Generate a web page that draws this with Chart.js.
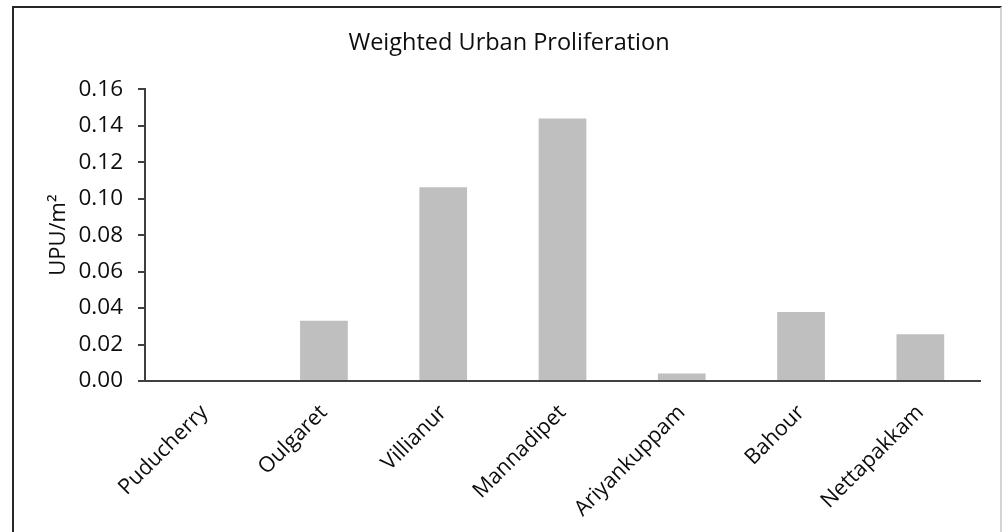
<!DOCTYPE html>
<html>
<head>
<meta charset="utf-8">
<script src="https://cdn.jsdelivr.net/npm/chart.js@4"></script>
<style>
  html, body { margin: 0; padding: 0; background: #fff; }
  #wrap { position: relative; width: 1006px; height: 532px; overflow: hidden; }
  #frame { position: absolute; left: 12px; top: 6px; width: 986px; height: 560px;
           border-left: 2px solid #262626; border-top: 2px solid #262626; border-right: 2px solid #d4d4d4; }
  #cv { position: absolute; left: 0; top: 0; }
</style>
</head>
<body>
<div id="wrap">
  <div id="frame"></div>
  <canvas id="cv" width="1006" height="532"></canvas>
</div>
<script>
const categories = ["Puducherry", "Oulgaret", "Villianur", "Mannadipet", "Ariyankuppam", "Bahour", "Nettapakkam"];
const values = [0.0, 0.0331, 0.1062, 0.1440, 0.0041, 0.0379, 0.0256];
const yTicks = [0.00, 0.02, 0.04, 0.06, 0.08, 0.10, 0.12, 0.14, 0.16];
const chartTitle = "Weighted Urban Proliferation";
const yTitle = "UPU/m\u00B2";

const FONT = "'Open Sans', sans-serif";
const AXIS = "#404040";

new Chart(document.getElementById('cv'), {
  type: 'bar',
  data: {
    labels: categories,
    datasets: [{
      data: values,
      backgroundColor: '#bfbfbf',
      borderWidth: 0,
      categoryPercentage: 1.0,
      barPercentage: 0.4
    }]
  },
  options: {
    responsive: false,
    animation: false,
    layout: { padding: { left: 38, right: 26, top: 0, bottom: 0 } },
    plugins: {
      legend: { display: false },
      tooltip: { enabled: false },
      title: {
        display: true,
        text: chartTitle,
        color: '#0d0d0d',
        font: { family: FONT, size: 23.5, weight: 'normal' },
        padding: { top: 29, bottom: 32 }
      }
    },
    scales: {
      x: {
        grid: { display: false, drawTicks: false },
        border: { display: true, color: AXIS, width: 2 },
        ticks: {
          autoSkip: false,
          maxRotation: 45,
          minRotation: 45,
          padding: 19,
          color: '#0d0d0d',
          font: { family: FONT, size: 21.5 }
        },
        afterFit: (s) => { s.height = 151; }
      },
      y: {
        min: 0,
        max: 0.16,
        afterBuildTicks: (s) => { s.ticks = yTicks.map(v => ({ value: v })); },
        grid: { display: true, drawOnChartArea: false, drawTicks: true, tickLength: 7, color: AXIS, lineWidth: 2 },
        border: { display: true, color: AXIS, width: 2 },
        ticks: {
          padding: 15,
          color: '#0d0d0d',
          font: { family: FONT, size: 22.5 },
          callback: (v) => Number(v).toFixed(2)
        },
        title: {
          display: true,
          text: yTitle,
          color: '#0d0d0d',
          font: { family: FONT, size: 22 },
          padding: { top: 8, bottom: 0 }
        },
        afterFit: (s) => { s.width = 107; }
      }
    }
  }
});
</script>
</body>
</html>
